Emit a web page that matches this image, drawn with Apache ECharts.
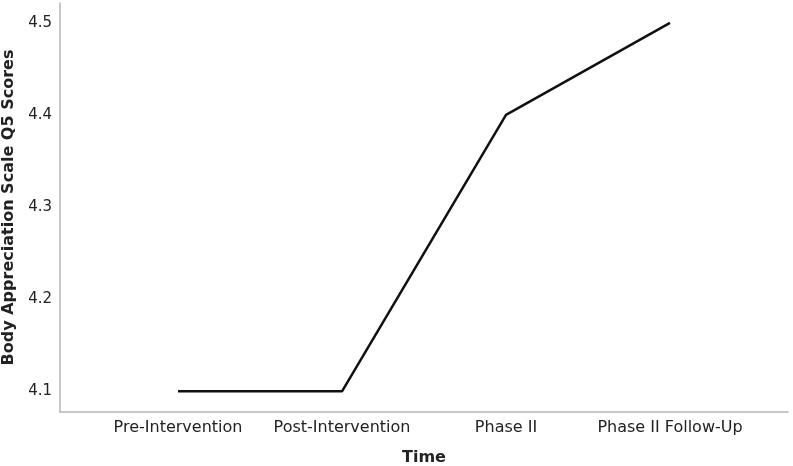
<!DOCTYPE html>
<html><head><meta charset="utf-8">
<script src="https://cdn.jsdelivr.net/npm/echarts@6/dist/echarts.min.js"></script>
<style>html,body{margin:0;padding:0;background:#fff}#c{width:793px;height:466px}</style>
</head><body><div id="c"></div>
<script>
var categories = ['Pre-Intervention', 'Post-Intervention', 'Phase II', 'Phase II Follow-Up'];
var scores = [4.1, 4.1, 4.4, 4.5];
var yTicks = [4.1, 4.2, 4.3, 4.4, 4.5];
var yMin = 4.0775, yMax = 4.5215;

var font = 'DejaVu Sans';
var chart = echarts.init(document.getElementById('c'));
chart.setOption({
  animation: false,
  grid: [
    {left: 96, right: 41, top: 3, bottom: 54, outerBoundsMode: 'none', containLabel: false},
    {left: 60, right: 5, top: 3, bottom: 54, outerBoundsMode: 'none', containLabel: false}
  ],
  xAxis: [
    {type: 'category', gridIndex: 0, data: categories, boundaryGap: true,
     axisLine: {show: false}, axisTick: {show: false},
     axisLabel: {interval: 0, margin: 8, fontFamily: font, fontSize: 16, color: '#222'}},
    {type: 'value', gridIndex: 1, min: 0, max: 1,
     axisLine: {show: true, onZero: false, lineStyle: {color: '#b5b5b5', width: 1.5}},
     axisTick: {show: false}, axisLabel: {show: false}, splitLine: {show: false},
     name: 'Time', nameLocation: 'middle', nameGap: 38,
     nameTextStyle: {fontFamily: font, fontSize: 16, fontWeight: 'bold', color: '#222'}}
  ],
  yAxis: [
    {type: 'value', gridIndex: 0, min: yMin, max: yMax, show: false},
    {type: 'value', gridIndex: 1, min: yMin, max: yMax,
     axisLine: {show: true, onZero: false, lineStyle: {color: '#b5b5b5', width: 1.5}},
     splitLine: {show: false},
     axisLabel: {margin: 8, padding: [4, 0, 0, 0], fontFamily: font, fontSize: 15, color: '#222',
       customValues: yTicks, formatter: function(v){return v.toFixed(1);}},
     axisTick: {show: false, customValues: yTicks},
     name: 'Body Appreciation Scale Q5 Scores', nameLocation: 'middle', nameGap: 40,
     nameTextStyle: {fontFamily: font, fontSize: 16, fontWeight: 'bold', color: '#222'}}
  ],
  series: [{
    type: 'line', xAxisIndex: 0, yAxisIndex: 0, data: scores,
    symbol: 'none', lineStyle: {color: '#111', width: 2.5}
  }]
});
</script></body></html>
